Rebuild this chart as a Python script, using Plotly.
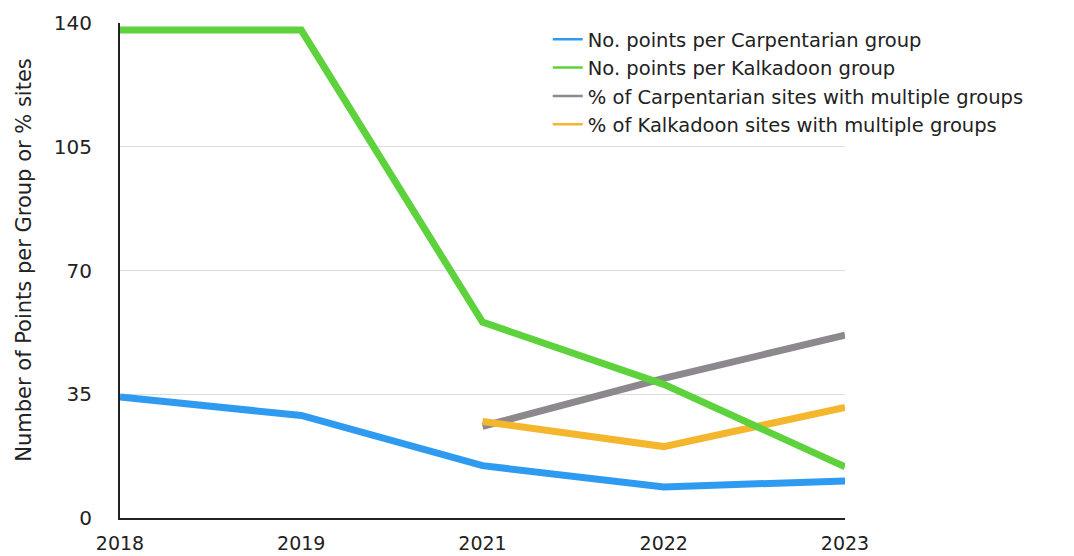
import plotly.graph_objects as go

years = ["2018", "2019", "2021", "2022", "2023"]
carp_points = [34.2, 29, 14.8, 8.8, 10.5]
kalk_points = [138, 138, 55.4, 37.8, 14.5]
carp_pct = [None, None, 25.9, 39.5, 51.7]
kalk_pct = [None, None, 27.3, 20.2, 31.3]

names = [
    "No. points per Carpentarian group",
    "No. points per Kalkadoon group",
    "% of Carpentarian sites with multiple groups",
    "% of Kalkadoon sites with multiple groups",
]
colors = ["#2f9bf0", "#5ed23c", "#8c888e", "#f4b62c"]
series = [carp_points, kalk_points, carp_pct, kalk_pct]
y_title = "Number of Points per Group or % sites"

FONT = "DejaVu Sans, Liberation Sans, Arial, sans-serif"

fig = go.Figure()
order = [0, 2, 3, 1]
for i in order:
    fig.add_trace(go.Scatter(x=years, y=series[i], mode="lines",
                             line=dict(color=colors[i], width=7),
                             showlegend=False, hoverinfo="skip"))
for i in range(4):
    fig.add_trace(go.Scatter(x=[years[0]], y=[None], mode="lines", name=names[i],
                             line=dict(color=colors[i], width=2.5)))

fig.add_annotation(text=y_title, textangle=-90, xref="paper", yref="paper",
                   x=-0.1336, y=0.522, xanchor="center", yanchor="middle",
                   showarrow=False, font=dict(size=21, color="#222"))

fig.update_layout(
    width=1074, height=556,
    margin=dict(l=112, r=237, t=15, b=46, autoexpand=False),
    paper_bgcolor="white", plot_bgcolor="white",
    font=dict(family=FONT, color="#222", size=16),
    legend=dict(x=0.59, y=1.006, xanchor="left", yanchor="top",
                bgcolor="rgba(255,255,255,0)", font=dict(size=19.5),
                tracegroupgap=0, itemwidth=30),
    xaxis=dict(type="category", range=[0, 4], showline=True, linecolor="#222",
               linewidth=2, showgrid=False, ticks="outside", ticklen=7,
               tickcolor="rgba(0,0,0,0)", tickfont=dict(size=19)),
    yaxis=dict(range=[0, 140], tickvals=[0, 35, 70, 105, 140], showline=True,
               linecolor="#222", linewidth=2, gridcolor="#dddddd", gridwidth=1,
               zeroline=False, ticks="outside", ticklen=22,
               tickcolor="rgba(0,0,0,0)", tickfont=dict(size=20)),
)
fig.write_html("out.html")
